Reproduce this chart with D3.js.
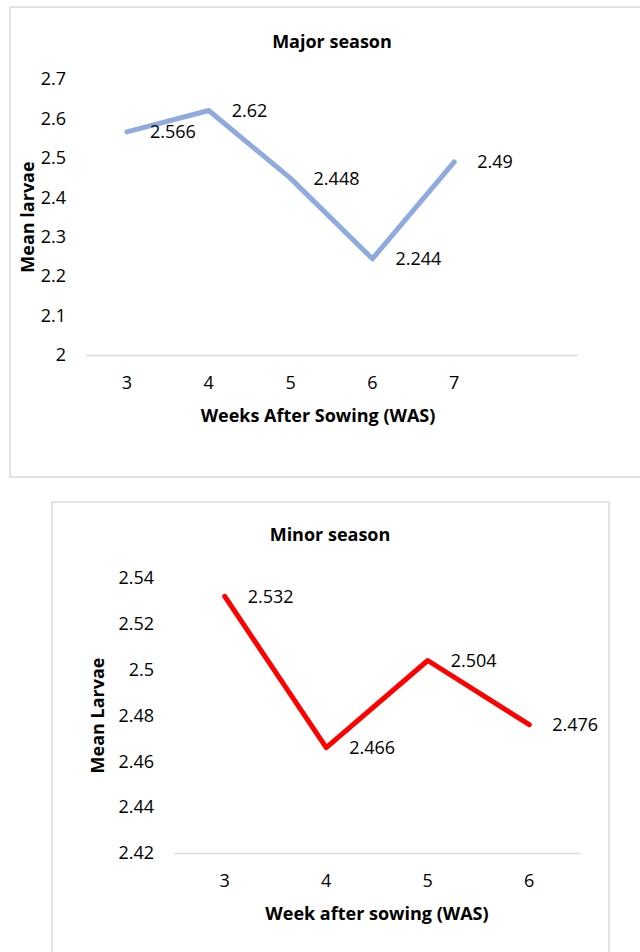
<!DOCTYPE html>
<html>
<head>
<meta charset="utf-8">
<script src="https://cdn.jsdelivr.net/npm/d3@7"></script>
<style>
  body { margin: 0; background: #fff; }
  text { font-family: "Open Sans", Lato, sans-serif; fill: #000; }
</style>
</head>
<body>
<div id="chart"></div>
<script>
// Major season (the empty last category is a blank slot Excel kept on the axis)
let majorWeeks = ['3', '4', '5', '6', '7', ''];
let majorValues = [2.566, 2.62, 2.448, 2.244, 2.49];
let majorTicks = [2, 2.1, 2.2, 2.3, 2.4, 2.5, 2.6, 2.7];

// Minor season
let minorWeeks = ['3', '4', '5', '6'];
let minorValues = [2.532, 2.466, 2.504, 2.476];
let minorTicks = [2.42, 2.44, 2.46, 2.48, 2.5, 2.52, 2.54];

let svg = d3
  .select('#chart')
  .append('svg')
  .attr('width', 640)
  .attr('height', 952);

function drawPanel(opts) {
  let g = svg.append('g');

  g.append('rect')
    .attr('x', opts.box[0])
    .attr('y', opts.box[1])
    .attr('width', opts.box[2])
    .attr('height', opts.box[3])
    .attr('fill', '#fff')
    .attr('stroke', '#d9d9d9')
    .attr('stroke-width', 1.5);

  let x = d3
    .scaleBand()
    .domain(opts.weeks)
    .range([opts.left, opts.right]);

  let y = d3
    .scaleLinear()
    .domain(d3.extent(opts.ticks))
    .range([opts.bottom, opts.top]);

  let fmt = (d) => String(+d.toFixed(2));

  let xAxis = g
    .append('g')
    .attr('transform', `translate(0, ${opts.bottom})`)
    .call(d3.axisBottom(x).tickSize(0).tickPadding(21));
  xAxis.select('.domain').attr('stroke', '#d9d9d9').attr('stroke-width', 1.5);
  xAxis.selectAll('text').style('font-size', '18px').attr('fill', '#000');

  let yAxis = g
    .append('g')
    .attr('transform', `translate(${opts.left}, 0)`)
    .call(d3.axisLeft(y).tickValues(opts.ticks).tickFormat(fmt).tickSize(0).tickPadding(20));
  yAxis.select('.domain').remove();
  yAxis.selectAll('text').style('font-size', '18px').attr('fill', '#000');

  let points = opts.values.map((v, i) => [x(opts.weeks[i]) + x.bandwidth() / 2, y(v)]);

  g.append('path')
    .datum(opts.values)
    .attr('fill', 'none')
    .attr('stroke', opts.color)
    .attr('stroke-width', 5)
    .attr('stroke-linejoin', 'round')
    .attr('stroke-linecap', 'round')
    .attr(
      'd',
      d3
        .line()
        .x((d, i) => x(opts.weeks[i]) + x.bandwidth() / 2)
        .y((d) => y(d))
    );

  g.selectAll('.label')
    .data(opts.values)
    .enter()
    .append('text')
    .attr('class', 'label')
    .attr('x', (d, i) => points[i][0] + 23)
    .attr('y', (d) => y(d))
    .attr('dy', '0.35em')
    .style('font-size', '18px')
    .text((d) => d);

  g.append('text')
    .attr('x', opts.titleX)
    .attr('y', opts.titleY)
    .attr('text-anchor', 'middle')
    .style('font-size', '18px')
    .style('font-weight', 'bold')
    .text(opts.title);

  g.append('text')
    .attr('x', opts.xTitleX)
    .attr('y', opts.bottom + 67)
    .attr('text-anchor', 'middle')
    .style('font-size', '18px')
    .style('font-weight', 'bold')
    .text(opts.xTitle);

  g.append('text')
    .attr('transform', `translate(${opts.yTitleX}, ${(opts.top + opts.bottom) / 2}) rotate(-90)`)
    .attr('text-anchor', 'middle')
    .style('font-size', '18px')
    .style('font-weight', 'bold')
    .text(opts.yTitle);
}

drawPanel({
  box: [10, 7, 650, 470],
  weeks: majorWeeks,
  values: majorValues,
  ticks: majorTicks,
  left: 86,
  right: 577,
  top: 79,
  bottom: 355,
  color: '#8faadc',
  title: 'Major season',
  titleX: 332,
  titleY: 48,
  xTitle: 'Weeks After Sowing (WAS)',
  xTitleX: 318,
  yTitle: 'Mean larvae',
  yTitleX: 34,
});

drawPanel({
  box: [52, 502, 557, 470],
  weeks: minorWeeks,
  values: minorValues,
  ticks: minorTicks,
  left: 174,
  right: 580,
  top: 578,
  bottom: 853,
  color: '#ff0000',
  title: 'Minor season',
  titleX: 330,
  titleY: 541,
  xTitle: 'Week after sowing (WAS)',
  xTitleX: 377,
  yTitle: 'Mean Larvae',
  yTitleX: 104,
});
</script>
</body>
</html>
